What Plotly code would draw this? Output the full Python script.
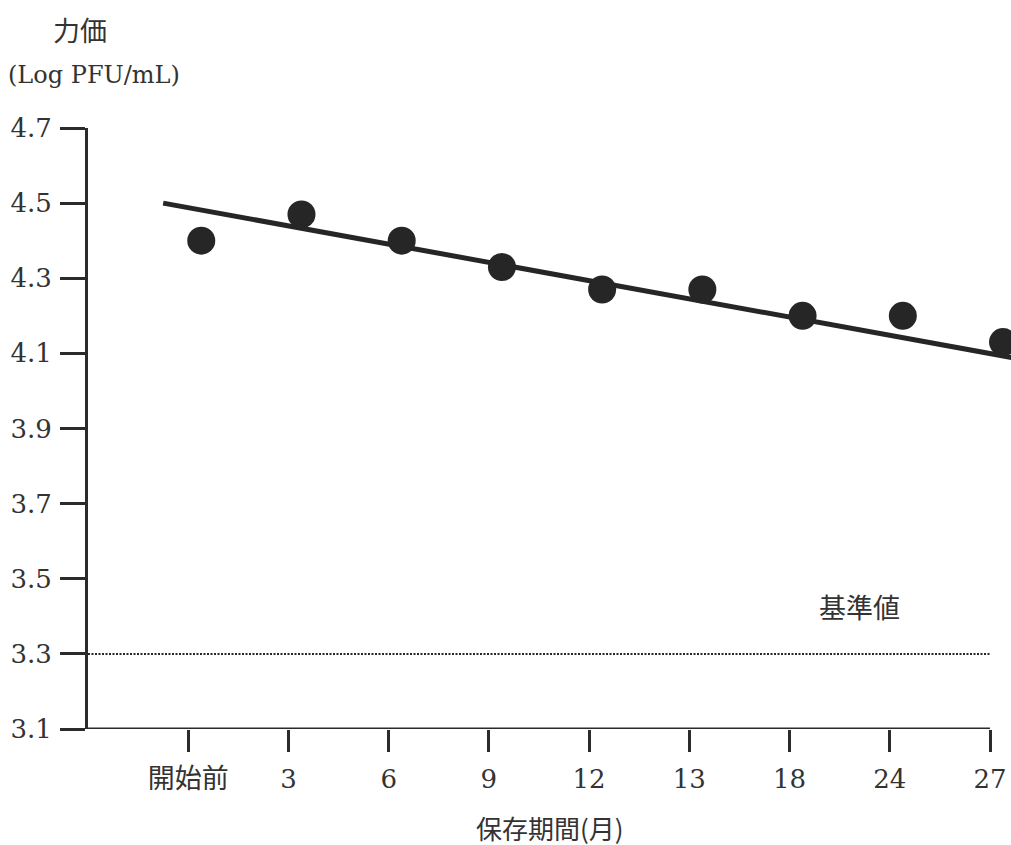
import numpy as np
import plotly.graph_objects as go

# ---- data ----
categories = ["開始前", "3", "6", "9", "12", "13", "18", "24", "27"]
titer = [4.40, 4.47, 4.40, 4.33, 4.27, 4.27, 4.20, 4.20, 4.13]
trend_x = [0.75, 9.30]
trend_y = [4.50, 4.085]
standard_value = 3.3
y_ticks = [3.1, 3.3, 3.5, 3.7, 3.9, 4.1, 4.3, 4.5, 4.7]

# ---- layout geometry ----
W, H = 1011, 845
L, R, T, B = 88, 0, 128, 116
plot_w = W - L - R
plot_h = H - T - B

def px_x(px):
    return (px - L) / plot_w

def px_y(py):
    return (H - B - py) / plot_h

dark = "#262626"
num_font = "DejaVu Serif, Noto Sans CJK JP"
cjk_font = "Noto Sans CJK JP"

cat_pos = np.arange(1, len(categories) + 1)
marker_x = cat_pos + 0.13

ticktext = [
    f'<span style="font-family:{cjk_font};font-size:27px">{c}</span>' if not c.isdigit() else c
    for c in categories
]

fig = go.Figure()

fig.add_trace(go.Scatter(
    x=trend_x, y=trend_y, mode="lines",
    line=dict(color=dark, width=5),
    hoverinfo="skip", showlegend=False,
))

fig.add_trace(go.Scatter(
    x=marker_x, y=titer, mode="markers",
    marker=dict(color=dark, size=28, line=dict(width=0)),
    cliponaxis=False, showlegend=False,
))

# dotted standard line
fig.add_shape(type="line", xref="x", yref="y",
              x0=0, x1=9, y0=standard_value, y1=standard_value,
              line=dict(color=dark, width=2, dash="2px,1.5px"))
# x axis baseline (only up to last tick)
fig.add_shape(type="line", xref="x", yref="y",
              x0=0, x1=9, y0=y_ticks[0], y1=y_ticks[0],
              line=dict(color="#2b2b2b", width=3))

fig.update_xaxes(
    range=[0, (W - L - R) / ((990 - L) / 9)],
    tickmode="array", tickvals=cat_pos, ticktext=ticktext,
    ticks="outside", ticklen=22, tickwidth=3, tickcolor="#2b2b2b",
    showline=False, showgrid=False, zeroline=False,
    tickfont=dict(family=num_font, size=26, color="#333333"),
    ticklabelstandoff=5,
)
fig.update_yaxes(
    range=[3.1, 4.7],
    tickmode="array", tickvals=y_ticks, ticktext=[f"{v:.1f}" for v in y_ticks],
    ticks="outside", ticklen=25, tickwidth=3, tickcolor="#2b2b2b",
    showline=True, linewidth=3, linecolor="#2b2b2b",
    showgrid=False, zeroline=False,
    tickfont=dict(family=num_font, size=26, color="#333333"),
    ticklabelstandoff=3,
)

annotations = [
    dict(text="力価", xref="paper", yref="paper", x=px_x(80), y=px_y(30),
         xanchor="center", yanchor="middle", showarrow=False,
         font=dict(family=cjk_font, size=27, color="#333333")),
    dict(text="(Log PFU/mL)", xref="paper", yref="paper", x=px_x(6), y=px_y(75),
         xanchor="left", yanchor="middle", showarrow=False,
         font=dict(family=num_font, size=24, color="#333333")),
    dict(text="保存期間(月)", xref="paper", yref="paper", x=px_x(550), y=px_y(827),
         xanchor="center", yanchor="middle", showarrow=False,
         font=dict(family=cjk_font, size=26, color="#333333")),
    dict(text="基準値", xref="x", yref="y", x=7.70, y=3.427,
         xanchor="center", yanchor="middle", showarrow=False,
         font=dict(family=cjk_font, size=27, color="#333333")),
]

fig.update_layout(
    width=W, height=H,
    margin=dict(l=L, r=R, t=T, b=B, pad=0),
    paper_bgcolor="white", plot_bgcolor="white",
    annotations=annotations,
    showlegend=False,
)

fig.write_html("out.html")
